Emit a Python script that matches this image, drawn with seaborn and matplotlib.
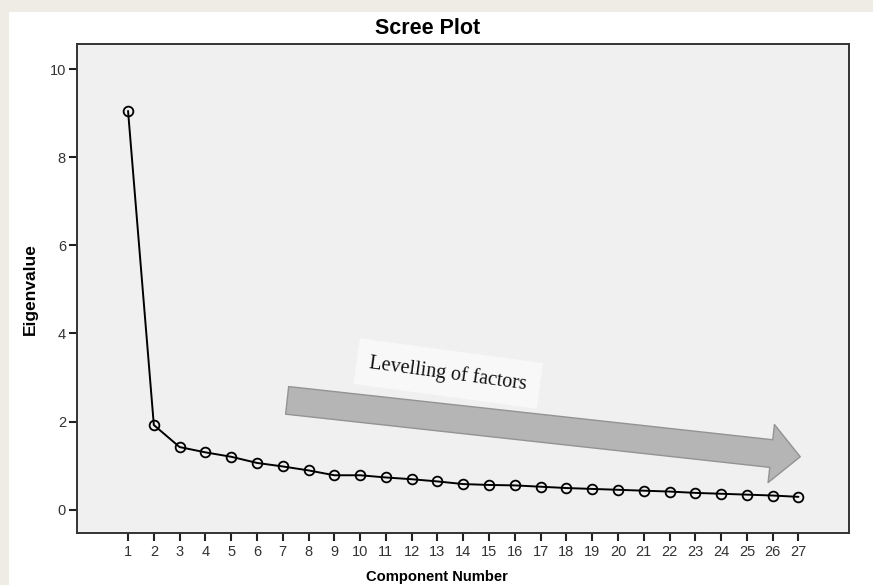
import matplotlib
matplotlib.use('Agg')
import matplotlib.pyplot as plt
import matplotlib.patches as mpatches
import seaborn as sns
import pandas as pd

# Scree plot data
components = list(range(1, 28))
eigenvalues = [9.05, 1.92, 1.42, 1.30, 1.20, 1.06, 0.98, 0.89, 0.78, 0.78,
               0.73, 0.69, 0.64, 0.58, 0.56, 0.55, 0.52, 0.49, 0.47, 0.45,
               0.43, 0.41, 0.38, 0.36, 0.34, 0.32, 0.29]
y_ticks = [0, 2, 4, 6, 8, 10]

df = pd.DataFrame({'Component Number': components, 'Eigenvalue': eigenvalues})

sns.set_style('white')
plt.rcParams['font.family'] = ['Liberation Sans', 'DejaVu Sans']
plt.rcParams['text.color'] = 'black'

fig = plt.figure(figsize=(8.73, 5.85), dpi=100, facecolor='#efebe5')
# white card over the beige page (drawn behind the axes)
fig.patches.append(mpatches.Rectangle((9 / 873, 0), 1, 1 - 12 / 585,
                                      transform=fig.transFigure,
                                      facecolor='white', edgecolor='none', zorder=-10))

ax = fig.add_axes([0.0882, 0.0897, 0.9725 - 0.0882, 0.9248 - 0.0897])
ax.set_zorder(1)
ax.set_facecolor('#f0f0f0')

sns.lineplot(data=df, x='Component Number', y='Eigenvalue', ax=ax,
             color='black', linewidth=1.4, marker='o', markersize=7,
             markerfacecolor='none', markeredgecolor='black', markeredgewidth=1.3,
             zorder=3)

ax.set_xlim(-0.98, 28.96)
ax.set_ylim(-0.52, 10.57)
ax.set_xticks(components)
ax.set_yticks(y_ticks)
ax.tick_params(axis='both', direction='out', length=6, width=1.5, colors='#222222',
               labelsize=10.5, labelcolor='#333333', bottom=True, left=True)
ax.tick_params(axis='y', pad=2)
ax.tick_params(axis='x', pad=3)
ax.set_xlabel('')
ax.set_ylabel('')
for side, sp in ax.spines.items():
    sp.set_color('#333333')
    sp.set_linewidth(1.4)

# titles placed on the figure, as in the original export
fig.text(428 / 873, 1 - 28.5 / 585, 'Scree Plot', ha='center', va='center',
         fontsize=15.5, fontweight='bold')
fig.text(437 / 873, 1 - 577 / 585, 'Component Number', ha='center', va='center',
         fontsize=10.6, fontweight='bold')
fig.text(30 / 873, 1 - 289 / 585, 'Eigenvalue', ha='center', va='center',
         rotation=90, fontsize=12.5, fontweight='bold')

# "levelling" arrow annotation
arrow = mpatches.FancyArrowPatch((7.17, 2.48), (27.07, 1.20),
                                 arrowstyle='simple,head_length=21,head_width=42,tail_width=20',
                                 mutation_scale=1, shrinkA=0, shrinkB=0,
                                 facecolor='#b5b5b5', edgecolor='#939393',
                                 linewidth=1.0, zorder=2)
ax.add_patch(arrow)

ax.text(13.42, 3.09, 'Levelling of factors', rotation=-7.7, rotation_mode='anchor',
        ha='center', va='center', fontsize=14.5,
        family=['Liberation Serif', 'DejaVu Serif'], color='#111111', zorder=4,
        bbox=dict(boxstyle='square,pad=0.65', facecolor='#f8f8f8', edgecolor='none'))

fig.savefig('out.png', dpi=100, facecolor=fig.get_facecolor())
plt.close(fig)
